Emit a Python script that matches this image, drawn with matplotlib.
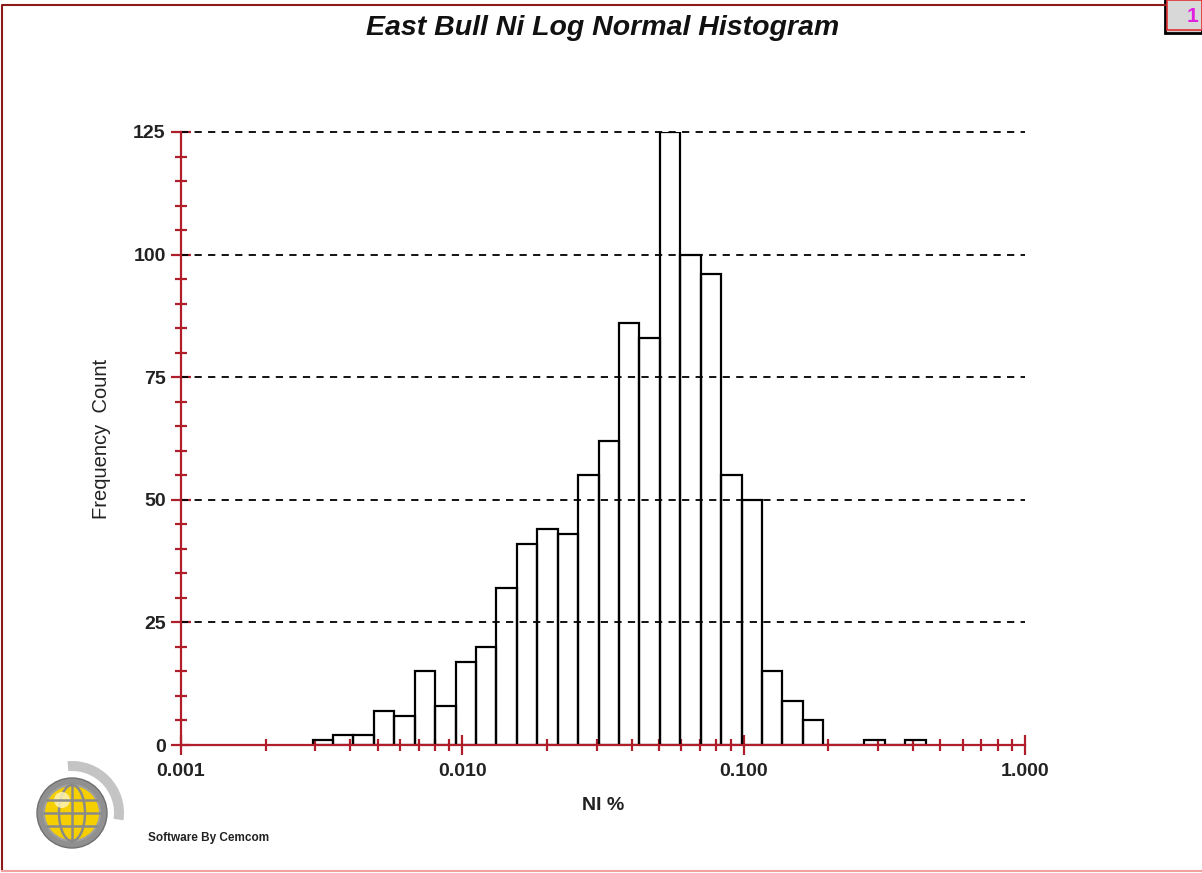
import numpy as np
import matplotlib
matplotlib.use('Agg')
import matplotlib.pyplot as plt
from matplotlib.patches import Rectangle, Circle, Wedge, Ellipse
from matplotlib.ticker import FixedLocator, NullFormatter

plt.rcParams['font.family'] = ['Liberation Sans', 'DejaVu Sans']

# bin edges (Ni %), log-spaced bins
bin_edges = [0.00294, 0.00347, 0.00410, 0.00485, 0.00573, 0.00678, 0.00801,
             0.00947, 0.0112, 0.0132, 0.0156, 0.0185, 0.0218, 0.0258, 0.0305,
             0.0361, 0.0426, 0.0504, 0.0596, 0.0704, 0.0832, 0.0983, 0.116,
             0.137, 0.162, 0.192, 0.227, 0.268, 0.317, 0.375, 0.443]
counts = [1, 2, 2, 7, 6, 15, 8, 17, 20, 32, 41, 44, 43, 55, 62,
          86, 83, 125, 100, 96, 55, 50, 15, 9, 5, 0, 0, 1, 0, 1]

y_ticks = [0, 25, 50, 75, 100, 125]
x_ticks = [0.001, 0.01, 0.1, 1.0]
x_tick_labels = ['0.001', '0.010', '0.100', '1.000']

red = '#b01e2a'

fig = plt.figure(figsize=(12.02, 8.73), dpi=100)
fig.patch.set_facecolor('white')

# decoration layer in pixel coordinates
bg = fig.add_axes([0, 0, 1, 1])
bg.set_xlim(0, 1202)
bg.set_ylim(873, 0)
bg.axis('off')
bg.plot([2, 2, 1165], [871, 5, 5], color='#8b1a1a', lw=1.5)
bg.plot([2, 1202], [871, 871], color='#f2a0a0', lw=1.5)
bg.add_patch(Rectangle((1165, 0), 37, 33, facecolor='#d0d0d0', edgecolor='black', lw=2))
bg.add_patch(Rectangle((1167, 0), 35, 30, facecolor='#d8d8d8', edgecolor='#e03030', lw=1.2))
bg.text(1193, 16, '1', color='#e020e0', fontsize=15, fontweight='bold', ha='center', va='center')

# logo
bg.add_patch(Wedge((72, 813), 52, -95, 8, width=10, facecolor='#c4c4c4', edgecolor='none'))
bg.add_patch(Circle((72, 813), 35, facecolor='#909090', edgecolor='#707070', lw=1))
bg.add_patch(Circle((72, 813), 28, facecolor='#f5cf00', edgecolor='#a0a0a0', lw=1.5))
bg.add_patch(Ellipse((72, 813), 26, 56, facecolor='none', edgecolor='#8a8a8a', lw=1.8))
bg.add_patch(Circle((62, 800), 8, facecolor='#fff7c0', edgecolor='none', alpha=0.8))
bg.plot([72, 72], [785, 841], color='#8a8a8a', lw=1.8)
for yy, hw in [(800, 25), (813, 28), (826, 25)]:
    bg.plot([72 - hw, 72 + hw], [yy, yy], color='#8a8a8a', lw=1.8)
bg.text(148, 838, 'Software By Cemcom', fontsize=8.5, fontweight='bold', va='center', color='#222222')

ax = fig.add_axes([181 / 1202, 128 / 873, 844 / 1202, 613 / 873])
ax.set_facecolor('none')
ax.set_xscale('log')
ax.set_xlim(0.001, 1.0)
ax.set_ylim(0, 125)

edges = np.array(bin_edges)
ax.bar(edges[:-1], counts, width=np.diff(edges), align='edge',
       facecolor='none', edgecolor='black', linewidth=1.6, zorder=2)

for v in y_ticks[1:]:
    ax.axhline(v, color='black', lw=1.3, ls=(0, (4, 3.5)), zorder=3, clip_on=False)

for s in ['top', 'right']:
    ax.spines[s].set_visible(False)
for s in ['left', 'bottom']:
    ax.spines[s].set_color(red)
    ax.spines[s].set_linewidth(1.6)
    ax.spines[s].set_zorder(4)

ax.yaxis.set_major_locator(FixedLocator(y_ticks))
ax.yaxis.set_minor_locator(FixedLocator(np.arange(0, 126, 5)))
ax.xaxis.set_major_locator(FixedLocator(x_ticks))
ax.xaxis.set_minor_locator(FixedLocator([m * 10.0 ** e for e in (-3, -2, -1) for m in range(2, 10)]))
ax.xaxis.set_minor_formatter(NullFormatter())
ax.set_xticklabels(x_tick_labels)

ax.tick_params(which='major', direction='inout', length=14, width=1.6, color=red,
               labelsize=14)
ax.tick_params(axis='y', which='major', pad=4)
ax.tick_params(axis='x', which='major', pad=6)
ax.tick_params(which='minor', direction='inout', length=9, width=1.6, color=red)
for lab in ax.get_xticklabels() + ax.get_yticklabels():
    lab.set_fontweight('bold')
    lab.set_color('#222222')

ax.set_xlabel('NI %', fontsize=14, fontweight='bold', labelpad=12, color='#222222')
ax.set_ylabel('Frequency  Count', fontsize=14.5, labelpad=16, color='#222222')

fig.text(603 / 1202, 1 - 28 / 873, 'East Bull Ni Log Normal Histogram', fontsize=20.5,
         fontweight='bold', fontstyle='italic', ha='center', va='center', color='#111111')

fig.savefig('out.png', dpi=100)
